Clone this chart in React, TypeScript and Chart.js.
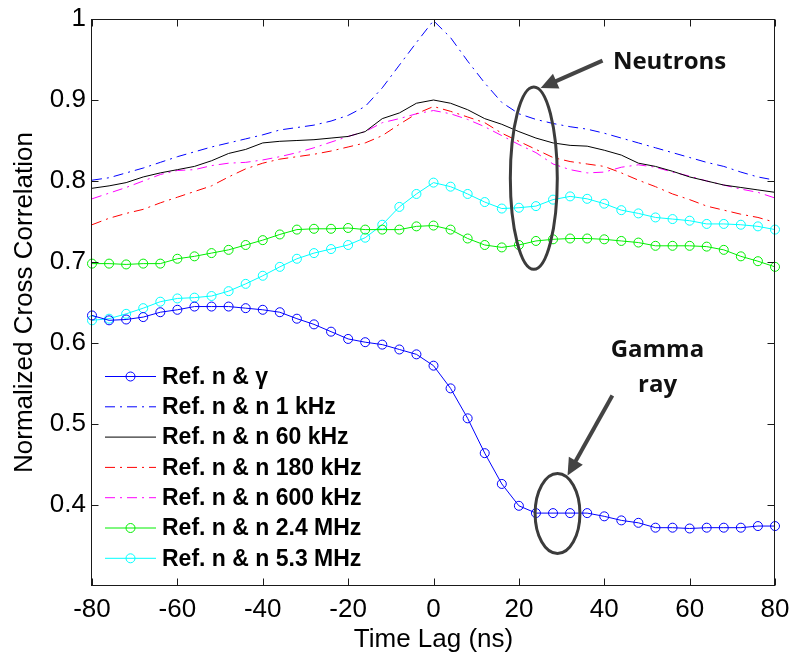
import React, { useEffect, useRef } from "react";
import { Chart, registerables } from "chart.js";

Chart.register(...registerables);

// ---------- data ----------
const lags = [
  -80, -76, -72, -68, -64, -60, -56, -52, -48, -44, -40, -36, -32, -28, -24, -20, -16, -12, -8, -4,
  0, 4, 8, 12, 16, 20, 24, 28, 32, 36, 40, 44, 48, 52, 56, 60, 64, 68, 72, 76, 80,
];

const refNGamma = [
  0.634, 0.628, 0.629, 0.632, 0.638, 0.641, 0.645, 0.645, 0.645, 0.643, 0.641, 0.638, 0.63, 0.623, 0.614, 0.605, 0.601, 0.598, 0.592, 0.586,
  0.572, 0.544, 0.507, 0.464, 0.426, 0.399, 0.39, 0.39, 0.39, 0.39, 0.386, 0.381, 0.378, 0.372, 0.372, 0.371, 0.372, 0.372, 0.372, 0.374, 0.374,
];

const refN1kHz = [
  0.801, 0.804, 0.81, 0.816, 0.823, 0.83, 0.836, 0.842, 0.847, 0.852, 0.857, 0.863, 0.866, 0.869, 0.874, 0.881, 0.892, 0.915, 0.943, 0.971,
  0.998, 0.977, 0.948, 0.921, 0.897, 0.883, 0.876, 0.871, 0.867, 0.864, 0.859, 0.853, 0.847, 0.841, 0.835, 0.829, 0.823, 0.818, 0.811, 0.805, 0.801,
];

const refN60kHz = [
  0.791, 0.794, 0.798, 0.805, 0.81, 0.814, 0.818, 0.825, 0.834, 0.839, 0.847, 0.849, 0.85, 0.851, 0.853, 0.855, 0.861, 0.877, 0.884, 0.896,
  0.9, 0.896, 0.888, 0.877, 0.87, 0.861, 0.853, 0.847, 0.844, 0.843, 0.838, 0.832, 0.822, 0.818, 0.812, 0.805, 0.8, 0.795, 0.792, 0.789, 0.786,
];

const refN180kHz = [
  0.746, 0.754, 0.76, 0.765, 0.773, 0.78, 0.787, 0.794, 0.805, 0.815, 0.822, 0.827, 0.83, 0.833, 0.837, 0.842, 0.847, 0.856, 0.87, 0.883,
  0.892, 0.886, 0.879, 0.872, 0.859, 0.849, 0.839, 0.829, 0.824, 0.821, 0.818, 0.81, 0.801, 0.793, 0.784, 0.777, 0.769, 0.764, 0.759, 0.755, 0.749,
];

const refN600kHz = [
  0.778, 0.785, 0.792, 0.8, 0.808, 0.813, 0.814, 0.819, 0.822, 0.823, 0.826, 0.83, 0.835, 0.841, 0.848, 0.855, 0.861, 0.872, 0.877, 0.883,
  0.887, 0.883, 0.876, 0.867, 0.856, 0.845, 0.835, 0.821, 0.814, 0.81, 0.811, 0.817, 0.82, 0.817, 0.811, 0.806, 0.8, 0.795, 0.79, 0.786, 0.779,
];

const refN2p4MHz = [
  0.698, 0.698, 0.697, 0.698, 0.698, 0.704, 0.707, 0.711, 0.715, 0.721, 0.727, 0.734, 0.74, 0.741, 0.741, 0.742, 0.74, 0.74, 0.74, 0.744,
  0.745, 0.74, 0.729, 0.721, 0.718, 0.721, 0.726, 0.728, 0.729, 0.729, 0.728, 0.726, 0.724, 0.72, 0.72, 0.72, 0.719, 0.715, 0.707, 0.701, 0.694,
];

const refN5p3MHz = [
  0.628, 0.63, 0.636, 0.643, 0.651, 0.655, 0.656, 0.658, 0.664, 0.673, 0.683, 0.694, 0.704, 0.711, 0.716, 0.721, 0.73, 0.746, 0.768, 0.784,
  0.798, 0.793, 0.784, 0.774, 0.766, 0.767, 0.769, 0.777, 0.781, 0.778, 0.772, 0.764, 0.76, 0.755, 0.753, 0.751, 0.747, 0.747, 0.746, 0.744, 0.74,
];

const seriesLabels = [
  "Ref. n & γ",
  "Ref. n & n 1 kHz",
  "Ref. n & n 60 kHz",
  "Ref. n & n 180 kHz",
  "Ref. n & n 600 kHz",
  "Ref. n & n 2.4 MHz",
  "Ref. n & n 5.3 MHz",
];

const xTickValues = [-80, -60, -40, -20, 0, 20, 40, 60, 80];
const yTickValues = [0.4, 0.5, 0.6, 0.7, 0.8, 0.9, 1];

const xTitle = "Time Lag (ns)";
const yTitle = "Normalized Cross Correlation";

// annotation anchors in data units (ns, correlation)
const neutronsText = { text: "Neutrons", x: 55.3, y: 0.9386 };
const gammaText = [
  { text: "Gamma", x: 52.45, y: 0.5823 },
  { text: "ray", x: 52.5, y: 0.5394 },
];
const neutronsEllipse = { xMin: 18.0, xMax: 29.0, yMin: 0.691, yMax: 0.916 };
const gammaEllipse = { xMin: 23.8, xMax: 34.3, yMin: 0.34, yMax: 0.439 };
const neutronsArrow = { x1: 39.6, y1: 0.9486, x2: 25.1, y2: 0.9149 };
const gammaArrow = { x1: 41.9, y1: 0.5353, x2: 31.4, y2: 0.4363 };

// ---------- styles ----------
const FONT = '"Liberation Sans", Arial, Helvetica, sans-serif';
const DASHDOT = [10, 5, 2, 5];

const seriesValues = [refNGamma, refN1kHz, refN60kHz, refN180kHz, refN600kHz, refN2p4MHz, refN5p3MHz];
const seriesStyles = [
  { color: "#0000ff", dash: [] as number[], marker: true },
  { color: "#0000ff", dash: DASHDOT, marker: false },
  { color: "#000000", dash: [] as number[], marker: false },
  { color: "#ff0000", dash: DASHDOT, marker: false },
  { color: "#ff00ff", dash: DASHDOT, marker: false },
  { color: "#00ee00", dash: [] as number[], marker: true },
  { color: "#00ffff", dash: [] as number[], marker: true },
];

const framePlugin = {
  id: "frameTicks",
  afterDatasetsDraw(chart: any) {
    const { ctx, chartArea: ca, scales } = chart;
    ctx.save();
    ctx.strokeStyle = "#1a1a1a";
    ctx.lineWidth = 1;
    ctx.setLineDash([]);
    const L = Math.round(ca.left) - 0.5;
    const R = Math.round(ca.right) - 0.5;
    const T = Math.round(ca.top) + 0.5;
    const B = Math.round(ca.bottom) - 0.5;
    ctx.strokeRect(L, T, R - L, B - T);
    ctx.beginPath();
    xTickValues.forEach((v) => {
      const x = Math.round(scales.x.getPixelForValue(v)) + 0.5;
      ctx.moveTo(x, B);
      ctx.lineTo(x, B - 7);
      ctx.moveTo(x, T);
      ctx.lineTo(x, T + 7);
    });
    yTickValues.forEach((v) => {
      const y = Math.round(scales.y.getPixelForValue(v)) + 0.5;
      ctx.moveTo(L, y);
      ctx.lineTo(L + 7, y);
      ctx.moveTo(R, y);
      ctx.lineTo(R - 7, y);
    });
    ctx.stroke();
    ctx.restore();
  },
  afterDraw(chart: any) {
    const { ctx, chartArea: ca, scales } = chart;
    const px = (v: number) => scales.x.getPixelForValue(v);
    const py = (v: number) => scales.y.getPixelForValue(v);

    // legend
    const x0 = ca.left + 13;
    const y0 = ca.top + 357.5;
    const rowH = 30.3;
    chart.data.datasets.forEach((ds: any, i: number) => {
      const y = y0 + i * rowH;
      ctx.save();
      ctx.strokeStyle = ds.borderColor;
      ctx.lineWidth = 1;
      ctx.setLineDash(ds.borderDash || []);
      ctx.beginPath();
      ctx.moveTo(x0, y);
      ctx.lineTo(x0 + 51, y);
      ctx.stroke();
      ctx.setLineDash([]);
      if (ds.pointRadius > 0) {
        ctx.beginPath();
        ctx.arc(x0 + 25.5, y, ds.pointRadius, 0, Math.PI * 2);
        ctx.stroke();
      }
      ctx.fillStyle = "#000";
      ctx.font = `bold 23px ${FONT}`;
      ctx.textAlign = "left";
      ctx.textBaseline = "middle";
      ctx.fillText(ds.label, x0 + 57, y + 1);
      ctx.restore();
    });

    // annotations
    ctx.save();
    ctx.fillStyle = "#111";
    ctx.font = 'bold 24px "Open Sans", "Noto Sans", sans-serif';
    ctx.textAlign = "center";
    ctx.textBaseline = "alphabetic";
    ctx.fillText(neutronsText.text, px(neutronsText.x), py(neutronsText.y));
    gammaText.forEach((t) => ctx.fillText(t.text, px(t.x), py(t.y)));

    ctx.strokeStyle = "#3c3c3c";
    ctx.lineWidth = 3;
    [neutronsEllipse, gammaEllipse].forEach((e) => {
      const xa = px(e.xMin), xb = px(e.xMax), ya = py(e.yMax), yb = py(e.yMin);
      ctx.beginPath();
      ctx.ellipse((xa + xb) / 2, (ya + yb) / 2, (xb - xa) / 2, (yb - ya) / 2, 0, 0, Math.PI * 2);
      ctx.stroke();
    });

    ctx.fillStyle = "#444";
    ctx.strokeStyle = "#444";
    ctx.lineWidth = 4;
    [neutronsArrow, gammaArrow].forEach((a) => {
      const sx = px(a.x1), sy = py(a.y1), ex = px(a.x2), ey = py(a.y2);
      const len = Math.hypot(ex - sx, ey - sy);
      const ux = (ex - sx) / len, uy = (ey - sy) / len;
      const hl = 17, hw = 8;
      ctx.beginPath();
      ctx.moveTo(sx, sy);
      ctx.lineTo(ex - ux * (hl - 2), ey - uy * (hl - 2));
      ctx.stroke();
      ctx.beginPath();
      ctx.moveTo(ex, ey);
      ctx.lineTo(ex - ux * hl - uy * hw, ey - uy * hl + ux * hw);
      ctx.lineTo(ex - ux * hl + uy * hw, ey - uy * hl - ux * hw);
      ctx.closePath();
      ctx.fill();
    });
    ctx.restore();
  },
};

export default function App() {
  const canvasRef = useRef<HTMLCanvasElement>(null);

  useEffect(() => {
    document.body.style.margin = "0";
    const canvas = canvasRef.current;
    if (!canvas) return;

    const datasets = seriesLabels.map((label, i) => {
      const st = seriesStyles[i];
      return {
        label,
        data: lags.map((x, j) => ({ x, y: seriesValues[i][j] })),
        borderColor: st.color,
        backgroundColor: "rgba(0,0,0,0)",
        borderWidth: 1,
        borderDash: st.dash,
        pointRadius: st.marker ? 4.5 : 0,
        pointHoverRadius: st.marker ? 4.5 : 0,
        pointBorderWidth: 1,
        pointBorderColor: st.color,
        pointBackgroundColor: "rgba(0,0,0,0)",
        pointStyle: "circle",
        tension: 0,
        fill: false,
        clip: false as any,
      };
    });

    const chart = new Chart(canvas, {
      type: "line",
      data: { datasets },
      plugins: [framePlugin],
      options: {
        responsive: false,
        animation: false,
        events: [],
        layout: { padding: { left: 0, right: 16, top: 19, bottom: 0 } },
        plugins: { legend: { display: false }, tooltip: { enabled: false }, title: { display: false } },
        scales: {
          x: {
            type: "linear",
            min: -80,
            max: 80,
            offset: false,
            afterBuildTicks: (scale: any) => {
              scale.ticks = xTickValues.map((v) => ({ value: v }));
            },
            afterFit: (scale: any) => {
              scale.height = 70;
              scale.paddingLeft = 0;
              scale.paddingRight = 0;
            },
            grid: { display: false, drawTicks: false },
            border: { display: false },
            ticks: {
              color: "#000",
              padding: 8,
              maxRotation: 0,
              autoSkip: false,
              font: { family: FONT, size: 26 },
              callback: (v: any) => String(v),
            },
            title: {
              display: true,
              text: xTitle,
              color: "#000",
              font: { family: FONT, size: 26 },
              padding: { top: 0, bottom: 1 },
            },
          },
          y: {
            type: "linear",
            min: 0.3,
            max: 1,
            afterBuildTicks: (scale: any) => {
              scale.ticks = yTickValues.map((v) => ({ value: v }));
            },
            afterFit: (scale: any) => {
              scale.width = 92;
              scale.paddingTop = 0;
              scale.paddingBottom = 0;
            },
            grid: { display: false, drawTicks: false },
            border: { display: false },
            ticks: {
              color: "#000",
              padding: 6,
              autoSkip: false,
              font: { family: FONT, size: 26 },
              callback: (v: any) => String(Math.round(Number(v) * 10) / 10),
            },
            title: {
              display: true,
              text: yTitle,
              color: "#000",
              font: { family: FONT, size: 26 },
              padding: { top: 9, bottom: 0 },
            },
          },
        },
      } as any,
    });

    return () => chart.destroy();
  }, []);

  return (
    <div style={{ width: 791, height: 656, background: "#fff" }}>
      <canvas ref={canvasRef} width={791} height={656} style={{ display: "block" }} />
    </div>
  );
}
